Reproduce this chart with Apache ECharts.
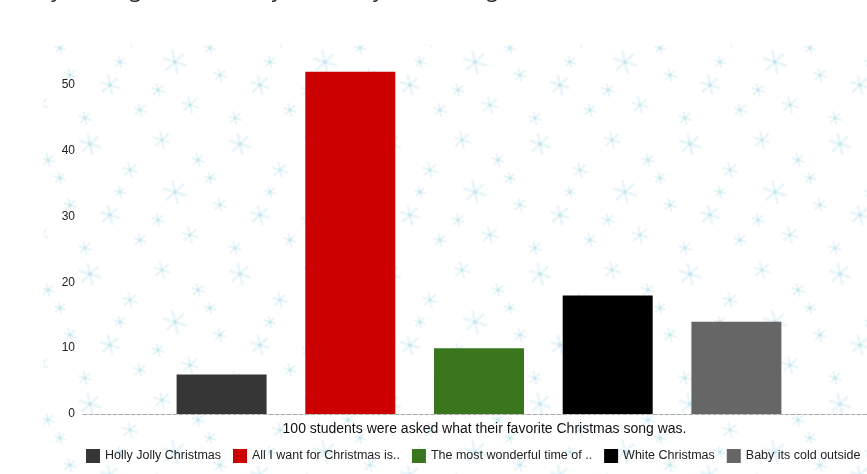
<!DOCTYPE html>
<html><head><meta charset="utf-8">
<script src="https://cdn.jsdelivr.net/npm/echarts@6/dist/echarts.min.js"></script>
<style>html,body{margin:0;padding:0;background:#fff}#c{width:867px;height:474px}</style>
</head><body><div id="c"></div>
<script>
const categories = ['100 students were asked what their favorite Christmas song was.'];
const songNames = ['Holly Jolly Christmas', 'All I want for Christmas is..', 'The most wonderful time of ..', 'White Christmas', 'Baby its cold outside'];
const votes = [6, 52, 10, 18, 14];
const songColors = ['#363636', '#cc0000', '#3a761d', '#000000', '#666666'];
const yTicks = [0, 10, 20, 30, 40, 50];
const titleText = 'Survey of Songs Students Say That They Hum Along';

function makeTile() {
  const c = document.createElement('canvas');
  c.width = 150; c.height = 130;
  const g = c.getContext('2d');
  g.fillStyle = '#ffffff'; g.fillRect(0, 0, 150, 130);
  const flakes = [[12,10,8],[48,30,6],[90,14,10],[130,40,7],[25,62,11],[70,75,6],[110,85,9],[140,110,6],[40,105,8],[85,118,6],[60,48,5],[120,62,5],[8,90,6]];
  flakes.forEach(([x, y, r]) => {
    g.strokeStyle = 'rgba(190,226,237,0.32)';
    g.lineWidth = r > 8 ? 3 : 2.4;
    g.lineCap = 'round';
    for (let k = 0; k < 6; k++) {
      const a = k * Math.PI / 3 + 0.3;
      g.beginPath(); g.moveTo(x, y);
      g.lineTo(x + r * Math.cos(a), y + r * Math.sin(a)); g.stroke();
    }
  });
  return c;
}

const chart = echarts.init(document.getElementById('c'));
const series = songNames.map((name, i) => ({
  name: name,
  type: 'bar',
  barWidth: 90,
  barGap: '43%',
  itemStyle: { color: songColors[i] },
  data: [votes[i]]
}));

chart.setOption({
  animation: false,
  backgroundColor: '#ffffff',
  graphic: [
    { type: 'rect', z: -10, silent: true, shape: { x: 43, y: 45, width: 830, height: 440 },
      style: { fill: { image: makeTile(), repeat: 'repeat' } } },
    { type: 'text', z: 10, x: -4, y: -19, silent: true,
      style: { text: titleText, font: '21px "Open Sans"', fill: '#222' } }
  ],
  grid: { left: 83, right: -8, top: 52, bottom: 60, containLabel: false, outerBoundsMode: 'none' },
  legend: {
    data: songNames, left: 81, top: 444, width: 840, icon: 'rect', itemWidth: 14, itemHeight: 14, itemGap: 12,
    textStyle: { fontSize: 12.5, color: '#222', fontFamily: 'Liberation Sans' }
  },
  xAxis: {
    type: 'category', data: categories,
    axisLine: { lineStyle: { color: '#aaaaaa', type: 'dashed', width: 1 } },
    axisTick: { show: false },
    axisLabel: { color: '#111', fontSize: 14, fontFamily: 'Liberation Sans', margin: 8, padding: [0, 0, 0, 11] }
  },
  yAxis: {
    type: 'value', min: yTicks[0], max: 55, interval: 10,
    axisLine: { show: false }, axisTick: { show: false }, splitLine: { show: false },
    axisLabel: { color: '#222', fontSize: 12, fontFamily: 'Liberation Sans', margin: 8, showMaxLabel: false, padding: [3, 0, 0, 0] }
  },
  series: series
});
</script></body></html>
